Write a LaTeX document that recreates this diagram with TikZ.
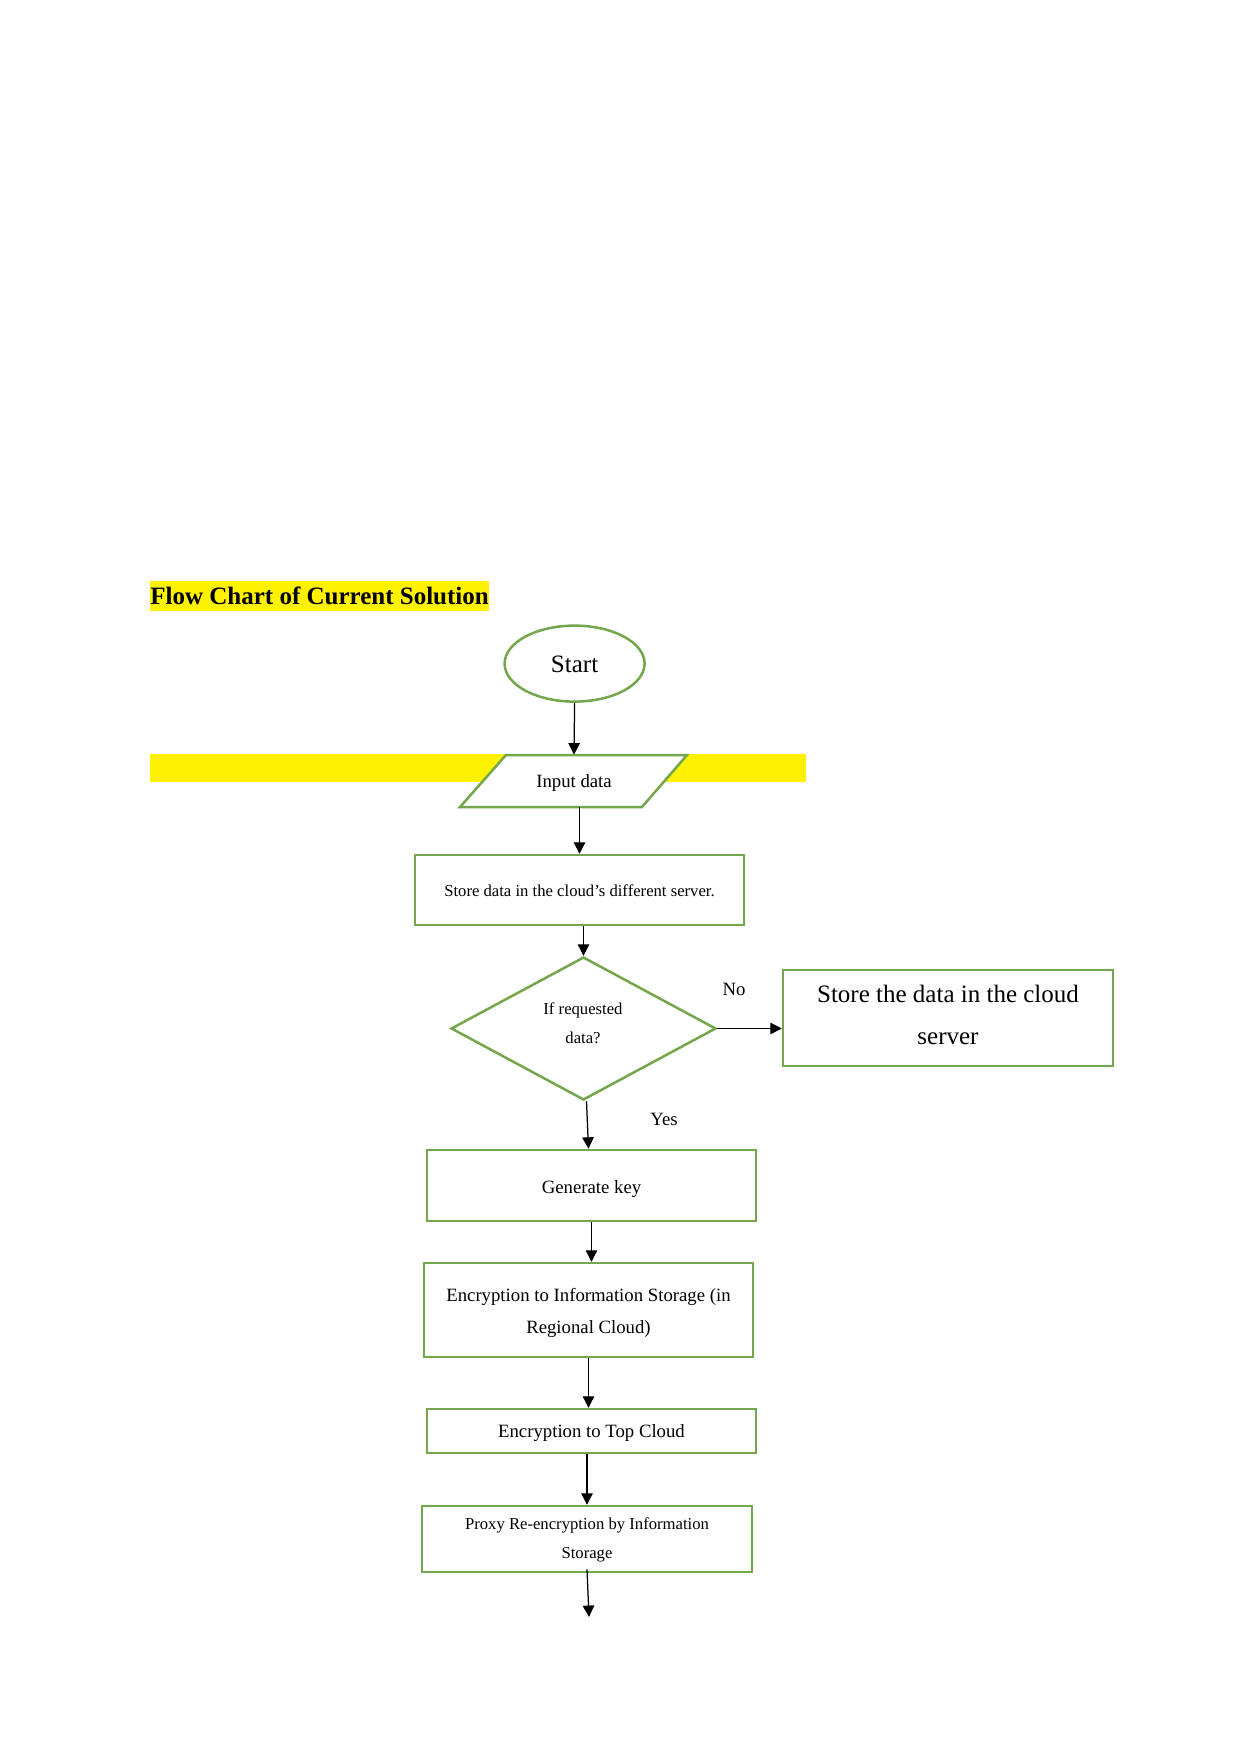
\documentclass[tikz,border=0pt]{standalone}
\usepackage{fontspec}
\setmainfont{Liberation Serif}
\usetikzlibrary{shapes.geometric,arrows.meta}
\definecolor{boxgreen}{RGB}{116,166,76}
\def\pxu{0.48pt}
\begin{document}
\begin{tikzpicture}[x=0.48pt,y=-0.48pt,
  flowbox/.style={draw=boxgreen,line width=1.2pt,fill=white,inner sep=0pt,align=center,rectangle},
  arr/.style={line width=0.6pt,-{Triangle[length=5.5pt,width=5.5pt]}},
  lbl/.style={inner sep=0pt,align=center},
  fnine/.style={font=\fontsize{9}{15.4}\selectfont},
  feight/.style={font=\fontsize{8}{14}\selectfont},
  ftwelve/.style={font=\fontsize{12}{20}\selectfont}]
\useasboundingbox (0,0) rectangle (1241,1754);
% title
\node[lbl, fill=yellow, text height=11.3pt, text depth=3.1pt, anchor=west,
      font=\bfseries\fontsize{12}{14}\selectfont] (title) at (150,596) {Flow Chart of Current Solution};
% yellow band
\fill[yellow] (150,754) rectangle (806,782);
% start
\node[ellipse, draw=boxgreen, line width=1.2pt, fill=white, minimum width=140*\pxu,
      minimum height=76*\pxu, inner sep=0pt,
      label={[lbl,ftwelve,yshift=-0.5pt]center:Start}] (start) at (574.6,663.6) {};
% input parallelogram
\filldraw[draw=boxgreen, fill=white, line width=1.2pt] (506,755) -- (687,755) -- (642,807) -- (460,807) -- cycle;
\node[lbl, minimum width=136*\pxu, minimum height=52*\pxu,
      label={[lbl,fnine,yshift=-1.1pt]center:Input data}] (input) at (574,781) {};
% store
\node[flowbox, minimum width=329*\pxu, minimum height=70*\pxu,
      label={[lbl,feight,yshift=-0.5pt]center:Store data in the cloud’s different server.}] (store) at (579.5,890) {};
% decision
\node[diamond, draw=boxgreen, line width=1.2pt, fill=white, minimum width=265*\pxu,
      minimum height=143*\pxu, inner sep=0pt] (dec) at (583.5,1028.5) {};
\node[lbl, feight] (dectext) at (583,1023.5) {If requested\\data?};
% no box
\node[flowbox, minimum width=330*\pxu, minimum height=96*\pxu,
      label={[lbl,ftwelve,yshift=1.6pt]center:Store the data in the cloud\\server}] (nobox) at (948,1018) {};
\node[lbl, fnine] (no) at (734,989) {No};
\node[lbl, fnine] (yes) at (664,1119) {Yes};
% chain
\node[flowbox, minimum width=329*\pxu, minimum height=71*\pxu,
      label={[lbl,fnine,yshift=-1.6pt]center:Generate key}] (gen) at (591.5,1185.5) {};
\node[flowbox, minimum width=329*\pxu, minimum height=94*\pxu,
      label={[lbl,fnine,yshift=-1.6pt]center:Encryption to Information Storage (in\\Regional Cloud)}] (enc1) at (588.5,1310) {};
\node[flowbox, minimum width=329*\pxu, minimum height=44*\pxu,
      label={[lbl,fnine,yshift=-1.1pt]center:Encryption to Top Cloud}] (enc2) at (591.5,1431) {};
\node[flowbox, minimum width=330*\pxu, minimum height=66*\pxu,
      label={[lbl,feight,yshift=-0.5pt]center:Proxy Re-encryption by Information\\Storage}] (proxy) at (587,1539) {};
\coordinate (end) at (589,1617);
% connectors
\draw[arr] (start.south) -- (input.north);
\draw[arr] (input.south -| store.north) -- (store.north);
\draw[arr] (store.south -| dec.north) -- (dec.north);
\draw[arr] (dec.east) -- (dec.east -| nobox.west);
\draw[arr] ([xshift=3*\pxu]dec.south) -- ([xshift=-3*\pxu]gen.north);
\draw[arr] (gen.south) -- (gen.south |- enc1.north);
\draw[arr] (enc1.south) -- (enc1.south |- enc2.north);
\draw[arr] (enc2.south -| proxy.north) -- (proxy.north);
\draw[arr] ([yshift=4*\pxu]proxy.south) -- (end);
\end{tikzpicture}
\end{document}
